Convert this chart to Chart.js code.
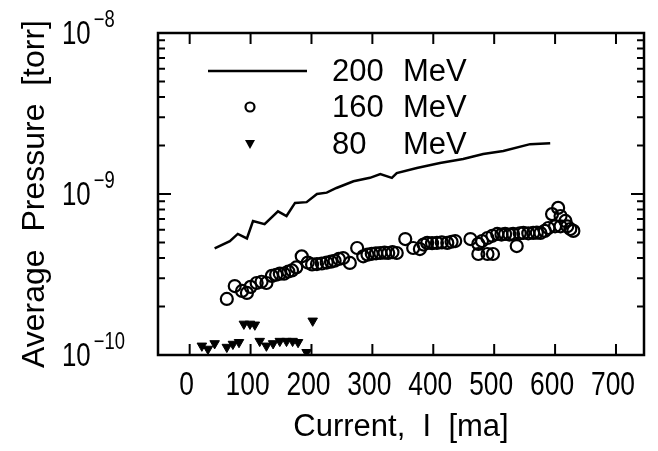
<!DOCTYPE html>
<html>
<head>
<meta charset="utf-8">
<script src="https://cdn.jsdelivr.net/npm/chart.js@4.4.0/dist/chart.umd.min.js"></script>
<style>
  html, body { margin: 0; padding: 0; background: #fff; }
  #wrap { position: relative; width: 658px; height: 451px; }
</style>
</head>
<body>
<div id="wrap"><canvas id="pressureChart"></canvas></div>
<script>
const FONT = '"Liberation Sans", Arial, sans-serif';

// 200 MeV, solid line
const current200 = [41, 66, 79, 94, 104, 123, 145, 159, 173, 192, 209, 225, 241, 269, 296, 313, 332, 340, 373, 411, 449, 482, 515, 559, 592];
const pressure200 = [4.6e-10, 5.1e-10, 5.65e-10, 5.3e-10, 6.8e-10, 6.5e-10, 7.8e-10, 7.3e-10, 8.8e-10, 8.9e-10, 1.0e-9, 1.02e-9, 1.09e-9, 1.2e-9, 1.26e-9, 1.33e-9, 1.26e-9, 1.35e-9, 1.45e-9, 1.56e-9, 1.65e-9, 1.77e-9, 1.85e-9, 2.04e-9, 2.07e-9];

// 160 MeV, open circles
const current160 = [61, 74, 86, 94, 100, 110, 118, 126, 135, 142, 148, 155, 162, 168, 175, 184, 194, 201, 209, 217, 225, 232, 238, 245, 252, 263, 275, 285, 292, 299, 306, 313, 320, 326, 333, 340, 354, 367, 378, 384, 390, 398, 406, 414, 423, 430, 436, 461, 474, 474, 480, 489, 489, 498, 497, 505, 512, 518, 525, 531, 537, 542, 548, 556, 564, 570, 576, 583, 589, 595, 600, 605, 609, 609, 617, 620, 625, 630];
const pressure160 = [2.23e-10, 2.68e-10, 2.5e-10, 2.43e-10, 2.65e-10, 2.8e-10, 2.85e-10, 2.8e-10, 3.1e-10, 3.15e-10, 3.2e-10, 3.2e-10, 3.3e-10, 3.35e-10, 3.5e-10, 4.1e-10, 3.75e-10, 3.65e-10, 3.67e-10, 3.7e-10, 3.75e-10, 3.8e-10, 3.85e-10, 3.95e-10, 4.0e-10, 3.73e-10, 4.62e-10, 4.1e-10, 4.2e-10, 4.25e-10, 4.28e-10, 4.3e-10, 4.32e-10, 4.3e-10, 4.35e-10, 4.3e-10, 5.25e-10, 4.62e-10, 4.55e-10, 4.85e-10, 4.97e-10, 4.95e-10, 4.97e-10, 5.0e-10, 4.97e-10, 5.05e-10, 5.1e-10, 5.25e-10, 4.9e-10, 4.24e-10, 5.1e-10, 4.24e-10, 5.33e-10, 4.24e-10, 5.5e-10, 5.65e-10, 5.6e-10, 5.65e-10, 5.6e-10, 5.65e-10, 4.75e-10, 5.7e-10, 5.73e-10, 5.7e-10, 5.73e-10, 5.75e-10, 5.73e-10, 5.9e-10, 6.15e-10, 7.5e-10, 6.3e-10, 8.2e-10, 7.3e-10, 6.3e-10, 6.8e-10, 6.3e-10, 6.06e-10, 5.9e-10];

// 80 MeV, filled down triangles
const current80 = [20, 30, 41, 61, 71, 81, 89, 99, 107, 115, 126, 137, 148, 159, 169, 178, 192, 202];
const pressure80 = [1.14e-10, 1.09e-10, 1.18e-10, 1.12e-10, 1.17e-10, 1.2e-10, 1.56e-10, 1.56e-10, 1.54e-10, 1.22e-10, 1.14e-10, 1.18e-10, 1.22e-10, 1.22e-10, 1.22e-10, 1.2e-10, 1.04e-10, 1.63e-10];

const xTicks = [0, 100, 200, 300, 400, 500, 600, 700];
const yExponents = [-10, -9, -8];
const legendLabels = [['200', 'MeV'], ['160', 'MeV'], ['80', 'MeV']];

const toPoints = (xs, ys) => xs.map((x, i) => ({ x: x, y: ys[i] }));

// condensed text: the original lettering is a narrow sans
function narrowText(ctx, text, x, y, size, align, squeeze) {
  ctx.save();
  ctx.font = size + 'px ' + FONT;
  ctx.textAlign = align;
  ctx.textBaseline = 'middle';
  ctx.translate(x, y);
  ctx.scale(squeeze, 1);
  ctx.fillText(text, 0, 0);
  const w = ctx.measureText(text).width * squeeze;
  ctx.restore();
  return w;
}

// frame, inward ticks, tick labels and the legend
const decorations = {
  id: 'decorations',
  afterDraw(chart) {
    const { ctx, chartArea: a, scales: { x, y } } = chart;
    ctx.save();
    ctx.strokeStyle = '#000';
    ctx.fillStyle = '#000';

    ctx.lineWidth = 2;
    ctx.beginPath();
    xTicks.forEach(v => {
      const px = x.getPixelForValue(v);
      ctx.moveTo(px, a.bottom); ctx.lineTo(px, a.bottom - 11);
      ctx.moveTo(px, a.top); ctx.lineTo(px, a.top + 11);
    });
    yExponents.forEach(e => {
      for (let m = 1; m < 10; m++) {
        const v = m * Math.pow(10, e);
        if (v > y.max * 1.0001) break;
        const py = y.getPixelForValue(v);
        const len = m === 1 ? 13 : 7;
        ctx.moveTo(a.left, py); ctx.lineTo(a.left + len, py);
        ctx.moveTo(a.right, py); ctx.lineTo(a.right - len, py);
      }
    });
    ctx.stroke();

    ctx.lineWidth = 2.5;
    ctx.strokeRect(a.left, a.top, a.right - a.left, a.bottom - a.top);

    // x tick labels
    xTicks.forEach(v => {
      narrowText(ctx, String(v), x.getPixelForValue(v) - 3, a.bottom + 31, 33, 'center', 0.8);
    });

    // y tick labels with superscript exponent
    yExponents.forEach(e => {
      const py = y.getPixelForValue(Math.pow(10, e));
      const w = narrowText(ctx, '10', 62, py + 2, 34, 'left', 0.76);
      narrowText(ctx, '\u2212' + (-e), 62 + w + 3, py - 12, 23, 'left', 0.8);
    });

    // legend
    const lx = a.left, ly = a.top;
    const rows = [ly + 38, ly + 74, ly + 111];
    ctx.lineWidth = 2.5;
    ctx.beginPath();
    ctx.moveTo(lx + 50, rows[0]); ctx.lineTo(lx + 149, rows[0]);
    ctx.stroke();
    ctx.lineWidth = 2.2;
    ctx.beginPath();
    ctx.arc(lx + 92, rows[1], 4.5, 0, Math.PI * 2);
    ctx.stroke();
    ctx.beginPath();
    ctx.moveTo(lx + 87, rows[2] - 4);
    ctx.lineTo(lx + 97, rows[2] - 4);
    ctx.lineTo(lx + 92, rows[2] + 5);
    ctx.closePath();
    ctx.fill();
    ctx.font = '31px ' + FONT;
    ctx.textBaseline = 'middle';
    ctx.textAlign = 'left';
    legendLabels.forEach((lab, i) => {
      ctx.fillText(lab[0], lx + 174, rows[i] + 1);
      ctx.fillText(lab[1], lx + 245, rows[i] + 1);
    });
    ctx.restore();
  }
};

new Chart(document.getElementById('pressureChart'), {
  type: 'scatter',
  data: {
    datasets: [
      {
        label: '200 MeV',
        data: toPoints(current200, pressure200),
        showLine: true,
        borderColor: '#000',
        borderWidth: 2.5,
        pointRadius: 0,
        tension: 0
      },
      {
        label: '160 MeV',
        data: toPoints(current160, pressure160),
        borderColor: '#000',
        backgroundColor: 'rgba(0,0,0,0)',
        borderWidth: 2.2,
        pointRadius: 6
      },
      {
        label: '80 MeV',
        data: toPoints(current80, pressure80),
        pointStyle: 'triangle',
        rotation: 180,
        borderColor: '#000',
        backgroundColor: '#000',
        borderWidth: 1,
        pointRadius: 5.5
      }
    ]
  },
  options: {
    responsive: true,
    maintainAspectRatio: false,
    animation: false,
    devicePixelRatio: 1,
    layout: { padding: { top: 33, right: 14, left: 0, bottom: 0 } },
    plugins: {
      legend: { display: false },
      tooltip: { enabled: false }
    },
    scales: {
      x: {
        type: 'linear',
        min: -52,
        max: 746,
        grid: { display: false, drawTicks: false },
        border: { display: false },
        afterBuildTicks: scale => { scale.ticks = xTicks.map(v => ({ value: v })); },
        afterFit: scale => { scale.height = 96; },
        ticks: { display: false },
        title: {
          display: true,
          text: 'Current,  I  [ma]',
          color: '#000',
          font: { family: FONT, size: 31 },
          padding: { top: 0, bottom: 5 }
        }
      },
      y: {
        type: 'logarithmic',
        min: 1e-10,
        max: 1e-8,
        grid: { display: false, drawTicks: false },
        border: { display: false },
        afterFit: scale => { scale.width = 158; },
        ticks: { display: false },
        title: {
          display: true,
          text: 'Average  Pressure  [torr]',
          color: '#000',
          font: { family: FONT, size: 32 },
          padding: { top: 16, bottom: 0 }
        }
      }
    }
  },
  plugins: [decorations]
});
</script>
</body>
</html>
